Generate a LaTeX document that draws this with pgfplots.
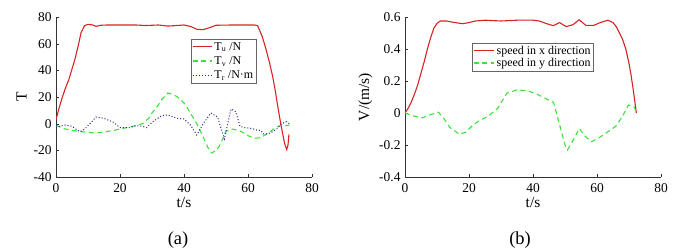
\documentclass[border=0pt]{standalone}
\usepackage{fontspec}
\setmainfont{Liberation Serif}
\usepackage{pgfplots}
\pgfplotsset{compat=1.18}
\definecolor{cred}{RGB}{215,35,35}
\definecolor{cgreen}{RGB}{60,225,60}
\definecolor{cblue}{RGB}{35,35,160}
\pgfplotsset{
  myax/.style={
    width=256bp, height=160bp, scale only axis,
    anchor=south west,
    axis x line*=bottom, axis y line*=left,
    tick align=inside, major tick length=3bp,
    axis line style={black!80, line width=0.5pt},
    tick style={black!80},
    xmin=0, xmax=80, xtick={0,20,...,80},
    /pgf/number format/assume math mode=true,
    tick label style={font=\fontsize{13.5}{15}\selectfont},
    xticklabel style={yshift=-3bp},
    yticklabel style={xshift=-1bp},
    label style={font=\fontsize{15.5}{17}\selectfont},
    xlabel style={yshift=2bp},
    xlabel={t/s},
    legend cell align=left,
    legend style={draw=black!60, inner sep=1bp, font=\fontsize{12}{13}\selectfont, anchor=north west},
  },
}
\begin{document}
\begin{tikzpicture}
\path[use as bounding box] (0,0) rectangle (693bp,252bp);
\begin{axis}[myax, at={(56bp,75bp)},
  ymin=-40, ymax=80, ytick={-40,-20,...,80},
  ylabel={T},
  legend style={at={(0.527,0.8625)}, row sep=1bp},
  legend image code/.code={\draw[#1, line width=1.4pt] (0bp,0.3bp) -- (19bp,0.3bp);},
]
\addplot[cred, line width=1.1pt] coordinates {
(0,3) (1,12) (2,20) (3,27) (4,33) (5,41) (6,49) (7,59) (7.8,68) (8.9,73.5) (10,74.5) (11.5,74) (12.5,73) (14,73.8) (16,74) (20,74) (25,74) (28,73.6) (32,74) (35,73.2) (37,73.5) (40,74) (42,73) (44,70.8) (46,70.5) (48,72) (50,73.8) (55,74) (60,74) (62,74) (63,73.5) (64.5,65) (65.6,56) (66.7,46) (67.7,35.5) (68.5,25) (69.3,13) (70.3,-1) (71.4,-14.5) (72.1,-19.5) (72.5,-16) (72.8,-8)
};
\addlegendentry{T\textsubscript{u} /N}
\addplot[cgreen, line width=1.1pt, dash pattern=on 5bp off 3.5bp] coordinates {
(0,-1) (2,-3.5) (5,-5) (8,-6) (12,-7) (15,-6.3) (18,-5) (22,-3) (25,-1.5) (27,0) (29,4) (30,8) (32,14) (33,18) (35,23) (36.5,22) (38,20) (40,15.5) (41,12) (43,4) (44,0) (46,-10) (47.5,-18) (48.7,-22) (50,-20) (51,-17) (52,-12) (53,-6) (55,-4) (56.5,-4.8) (58,-6) (60,-9) (62,-11) (64,-10.5) (65,-9) (67,-6) (68,-4) (70,-1.5) (71,-1) (72,-1.5) (73,-1)
};
\addlegendentry{T\textsubscript{v} /N}
\addplot[cblue, line width=1pt, dotted] coordinates {
(0,-1) (1,-2) (2,-1.5) (3,-1) (5,-2) (6.5,-4.5) (7.5,-6) (9,-4) (11,1) (12.5,5) (15,4) (18,1) (20,-3) (23,-3) (25,-1.5) (27,-2) (28.3,-3) (30,1) (33,6) (35,6.5) (38,4) (40,3.5) (42,-1) (44,-8.5) (46,0) (48.4,8) (50.5,5) (52.6,-11.5) (54.7,11) (56.2,9) (57.5,-2) (59,-3) (61,-3.5) (63,-5) (64,-5) (65,-8) (67,-7) (69,-4) (70.5,0) (72,1.5) (73,0)
};
\addlegendentry{T\textsubscript{r} /N·m}
\end{axis}
\begin{axis}[myax, at={(405bp,75bp)},
  ymin=-0.4, ymax=0.6, ytick={-0.4,-0.2,...,0.6},
  yticklabels={-0.4,-0.2,0,0.2,0.4,0.6},
  ylabel={V/(m/s)},
  legend style={at={(0.262,0.8375)}, row sep=-1.5bp},
  legend image code/.code={\draw[#1, line width=1.4pt] (0bp,0.3bp) -- (20bp,0.3bp);},
]
\addplot[cred, line width=1.1pt] coordinates {
(0,0) (1,0.03) (2,0.07) (3,0.12) (4,0.177) (5,0.25) (6,0.32) (7,0.4) (8,0.47) (9,0.53) (10,0.56) (11,0.575) (13,0.575) (15,0.567) (18,0.558) (20,0.565) (22,0.575) (25,0.58) (30,0.575) (35,0.58) (40,0.58) (42,0.575) (44,0.56) (46.3,0.546) (48.3,0.565) (50.4,0.54) (52.5,0.552) (54.4,0.583) (56.5,0.548) (59,0.548) (61,0.565) (63.4,0.58) (65,0.565) (66,0.54) (67,0.5) (68,0.46) (69,0.4) (70,0.31) (70.7,0.23) (71.5,0.12) (72.3,0.0)
};
\addlegendentry{speed in x direction}
\addplot[cgreen, line width=1.1pt, dash pattern=on 5bp off 3.5bp] coordinates {
(0,0) (3,-0.02) (5.5,-0.03) (8,-0.01) (10.4,0.005) (12,-0.03) (14,-0.09) (17,-0.133) (19,-0.12) (21,-0.08) (23,-0.05) (26,-0.02) (29,0.03) (31.8,0.123) (34.9,0.144) (38,0.14) (41,0.12) (44,0.09) (46.4,0.067) (48,-0.05) (50,-0.2) (50.8,-0.23) (52,-0.19) (54.5,-0.096) (56,-0.14) (58.3,-0.18) (61,-0.15) (64,-0.11) (66,-0.08) (68,-0.02) (69.8,0.05) (71.5,0.04) (72.5,0.0)
};
\addlegendentry{speed in y direction}
\end{axis}
\node[font=\fontsize{18.5}{20}\selectfont] at (178bp,12bp) {(a)};
\node[font=\fontsize{18.5}{20}\selectfont] at (520bp,12bp) {(b)};
\end{tikzpicture}
\end{document}
